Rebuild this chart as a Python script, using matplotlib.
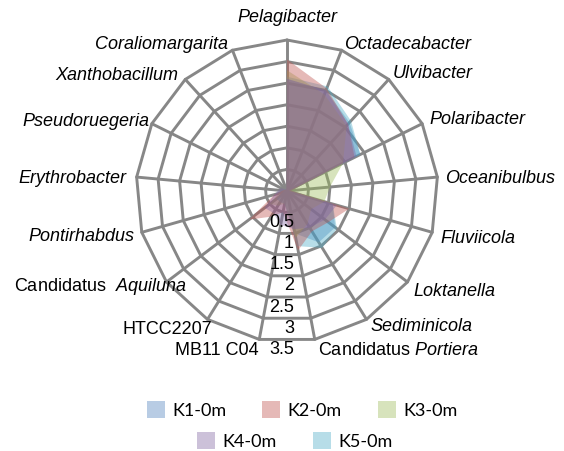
import numpy as np
import matplotlib.pyplot as plt

plt.rcParams['font.family'] = 'Liberation Sans'
plt.rcParams['mathtext.fontset'] = 'custom'
plt.rcParams['mathtext.rm'] = 'Liberation Sans'
plt.rcParams['mathtext.it'] = 'Liberation Sans:italic'

# genus order, clockwise from the top
genera = ['Pelagibacter', 'Octadecabacter', 'Ulvibacter', 'Polaribacter',
          'Oceanibulbus', 'Fluviicola', 'Loktanella', 'Sediminicola',
          'Candidatus $\\mathit{Portiera}$', 'MB11 C04', 'HTCC2207',
          'Candidatus  $\\mathit{Aquiluna}$', 'Pontirhabdus', 'Erythrobacter',
          'Pseudoruegeria', 'Xanthobacillum', 'Coraliomargarita']
italic = [True, True, True, True, True, True, True, True,
          False, False, False, False, True, True, True, True, True]

k1 = [2.6, 2.5, 2.15, 1.9, 0.1, 1.1, 1.4, 1.4, 1.0, 0.3, 0.3, 0.3, 0.1, 0.05, 0.05, 0.05, 0.05]
k2 = [3.05, 2.55, 2.1, 1.75, 0.1, 1.5, 1.2, 1.1, 1.4, 0.5, 0.7, 1.1, 0.3, 0.1, 0.05, 0.05, 0.05]
k3 = [2.8, 2.4, 2.05, 1.45, 1.0, 0.9, 0.7, 0.9, 1.1, 0.3, 0.4, 0.5, 0.2, 0.1, 0.05, 0.05, 0.05]
k4 = [2.6, 2.5, 2.1, 1.8, 0.05, 1.2, 1.1, 1.0, 0.9, 0.8, 0.6, 0.65, 0.3, 0.2, 0.15, 0.05, 0.05]
k5 = [2.65, 2.6, 2.2, 1.9, 0.1, 1.1, 1.45, 1.55, 1.3, 0.3, 0.3, 0.3, 0.1, 0.05, 0.05, 0.05, 0.05]
samples = ['K1-0m', 'K2-0m', 'K3-0m', 'K4-0m', 'K5-0m']
colors = ['#4F81BD', '#C0504D', '#9BBB59', '#8064A2', '#4BACC6']
rings = [0.5, 1, 1.5, 2, 2.5, 3, 3.5]

# stacking of the translucent areas (bottom first)
draw_order = [0, 4, 2, 1, 3]

# label placement: alignment and pixel offset from the outer vertex
label_ha = ['center'] + ['left'] * 8 + ['right'] * 8
label_off = [(0, -22), (2, -6), (4, -6), (7, -4), (8, 1), (8, 6), (6, 10), (4, 7),
             (3, 11), (-1, 11), (5, 10), (20, 5), (-7, 4), (-10, 1), (-2, -2),
             (-7, -4), (-4, -6)]

n = len(genera)
theta = np.arange(n) * 2 * np.pi / n


def polar_xy(r, th):
    # clockwise angle measured from 12 o'clock
    return np.asarray(r) * np.sin(th), np.asarray(r) * np.cos(th)


fig = plt.figure(figsize=(5.64, 4.51), dpi=100)
ax = fig.add_axes([0, 0, 1, 1])
ax.axis('off')

px = 151 / rings[-1]     # pixels per unit
cx, cy = 287, 191
ax.set_xlim(-cx / px, (564 - cx) / px)
ax.set_ylim(-(451 - cy) / px, cy / px)

grid_kw = dict(color='#878787', lw=2.1, solid_capstyle='round', solid_joinstyle='miter', zorder=1)
th_closed = np.append(theta, theta[0])
for r in rings:
    gx, gy = polar_xy(np.full(n + 1, r), th_closed)
    ax.plot(gx, gy, **grid_kw)
for th in theta:
    gx, gy = polar_xy([0, rings[-1]], [th, th])
    ax.plot(gx, gy, **grid_kw)

series = [k1, k2, k3, k4, k5]
handles = [None] * len(series)
for z, i in enumerate(draw_order):
    x, y = polar_xy(series[i], theta)
    h, = ax.fill(x, y, color=colors[i], alpha=0.4, lw=0, label=samples[i], zorder=2 + z * 0.1)
    handles[i] = h

# value labels down the bottom gap
for r in rings:
    ax.annotate(f'{r:g}', xy=(0, -r * np.cos(np.pi / n)), xytext=(7 * 0.72, -10 * 0.72),
                textcoords='offset points', ha='right', va='center', fontsize=13, zorder=3)

for i, name in enumerate(genera):
    vx, vy = polar_xy(rings[-1], theta[i])
    dx, dy = label_off[i]
    ax.annotate(name, xy=(vx, vy), xytext=(dx * 0.72, -dy * 0.72), textcoords='offset points',
                ha=label_ha[i], va='center', fontsize=13,
                fontstyle='italic' if italic[i] else 'normal', zorder=3)

leg_kw = dict(frameon=False, prop={'family': 'Lato', 'size': 13}, handlelength=1.0,
              handleheight=1.1, handletextpad=0.4, columnspacing=2.0, loc='center')
fig.legend(handles=handles[:3], ncol=3, bbox_to_anchor=(302 / 564, 1 - 410 / 451), **leg_kw)
fig.legend(handles=handles[3:], ncol=2, bbox_to_anchor=(295 / 564, 1 - 441 / 451), **leg_kw)

fig.savefig('out.png', dpi=100)
